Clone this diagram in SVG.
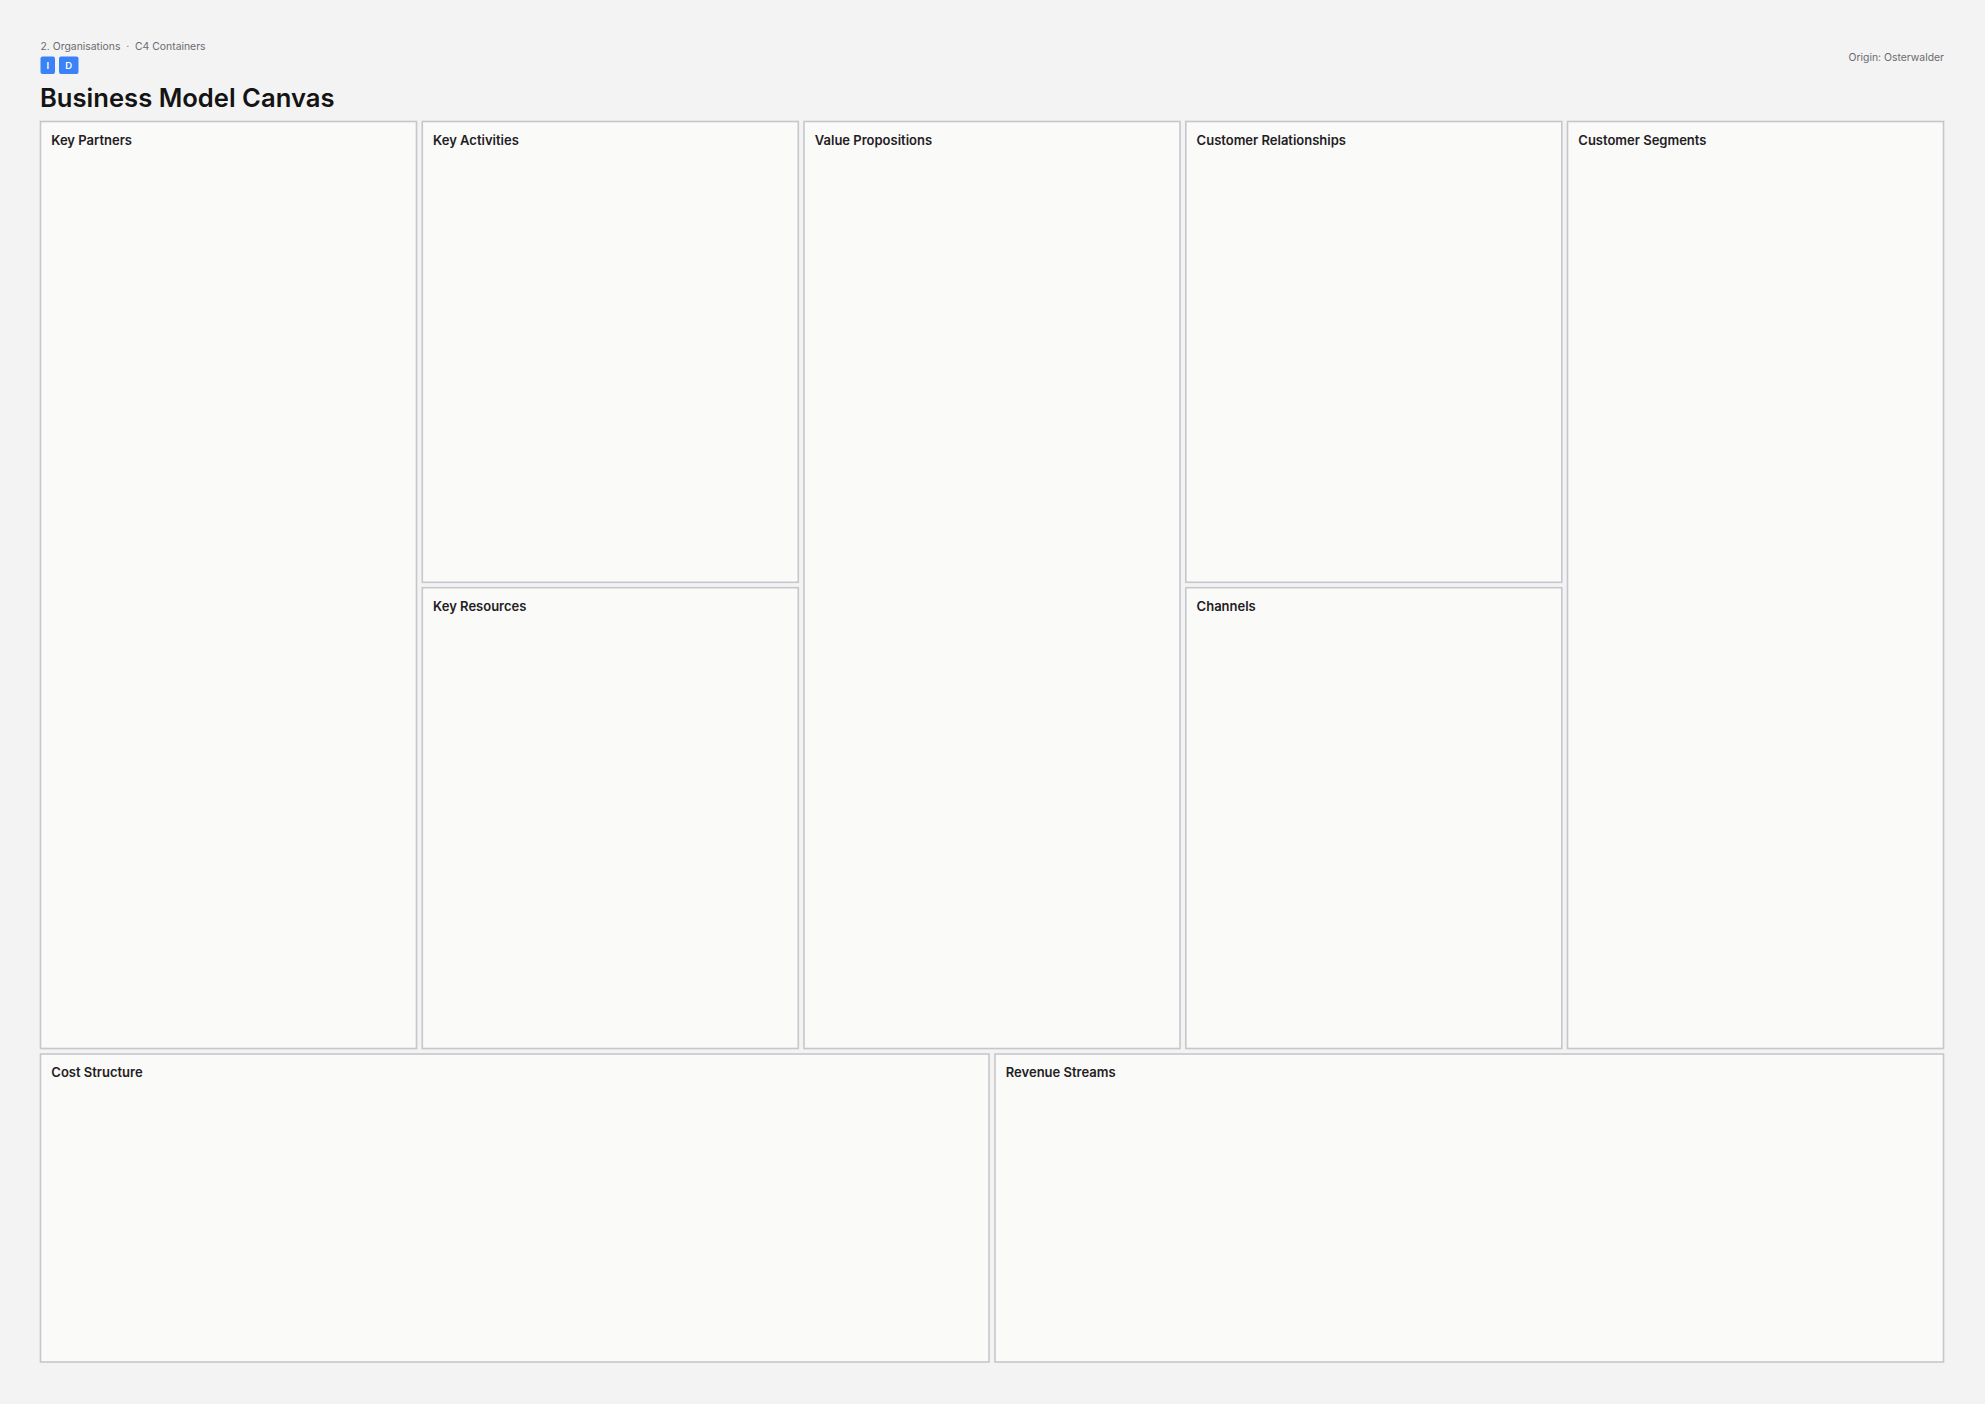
<svg xmlns="http://www.w3.org/2000/svg" width="1985" height="1404" viewBox="0 0 1985 1404">
<style>
  .bg { fill: #f3f3f3; }
  .box { fill: #fafaf8; stroke: #c6c7cc; stroke-width: 1.6; }
  .lbl { font-family: Inter, "Liberation Sans", sans-serif; font-size: 13px; font-weight: 600; fill: #1f2024; }
  .meta { font-family: Inter, "Liberation Sans", sans-serif; font-size: 10.4px; fill: #6b6b70; }
  .title { font-family: Inter, "Liberation Sans", sans-serif; font-size: 25.6px; font-weight: 600; fill: #141414; }
  .badge { fill: #3b82f6; }
  .badgetxt { font-family: Inter, "Liberation Sans", sans-serif; font-size: 9.5px; font-weight: 600; fill: #ffffff; text-anchor: middle; }
</style>
<rect class="bg" x="0" y="0" width="1985" height="1404"/>
<g id="header">
  <text class="meta" x="40.5" y="49.5">2. Organisations</text>
  <text class="meta" x="127.7" y="49.5" text-anchor="middle">·</text>
  <text class="meta" x="135" y="49.5">C4 Containers</text>
  <rect class="badge" x="40.5" y="56.5" width="14.5" height="17.5" rx="2"/>
  <text class="badgetxt" x="47.75" y="68.6">I</text>
  <rect class="badge" x="59" y="56.5" width="19.5" height="17.5" rx="2"/>
  <text class="badgetxt" x="68.75" y="68.6">D</text>
  <text class="title" x="40" y="107.3">Business Model Canvas</text>
  <text class="meta" x="1944" y="60.5" text-anchor="end">Origin: Osterwalder</text>
</g>
<g id="key-partners">
  <rect class="box" x="40.5" y="121.5" width="376" height="927"/>
  <text class="lbl" x="51.3" y="144.5">Key Partners</text>
</g>
<g id="key-activities">
  <rect class="box" x="422.3" y="121.5" width="376" height="460.8"/>
  <text class="lbl" x="433.1" y="144.5">Key Activities</text>
</g>
<g id="key-resources">
  <rect class="box" x="422.3" y="587.7" width="376" height="460.8"/>
  <text class="lbl" x="433.1" y="610.7">Key Resources</text>
</g>
<g id="value-propositions">
  <rect class="box" x="804" y="121.5" width="376" height="927"/>
  <text class="lbl" x="814.8" y="144.5">Value Propositions</text>
</g>
<g id="customer-relationships">
  <rect class="box" x="1185.8" y="121.5" width="376" height="460.8"/>
  <text class="lbl" x="1196.6" y="144.5">Customer Relationships</text>
</g>
<g id="channels">
  <rect class="box" x="1185.8" y="587.7" width="376" height="460.8"/>
  <text class="lbl" x="1196.6" y="610.7">Channels</text>
</g>
<g id="customer-segments">
  <rect class="box" x="1567.5" y="121.5" width="376" height="927"/>
  <text class="lbl" x="1578.3" y="144.5">Customer Segments</text>
</g>
<g id="cost-structure">
  <rect class="box" x="40.5" y="1054" width="948.5" height="308"/>
  <text class="lbl" x="51.3" y="1077">Cost Structure</text>
</g>
<g id="revenue-streams">
  <rect class="box" x="995" y="1054" width="948.5" height="308"/>
  <text class="lbl" x="1005.8" y="1077">Revenue Streams</text>
</g>
<g id="connectors"></g>
</svg>
